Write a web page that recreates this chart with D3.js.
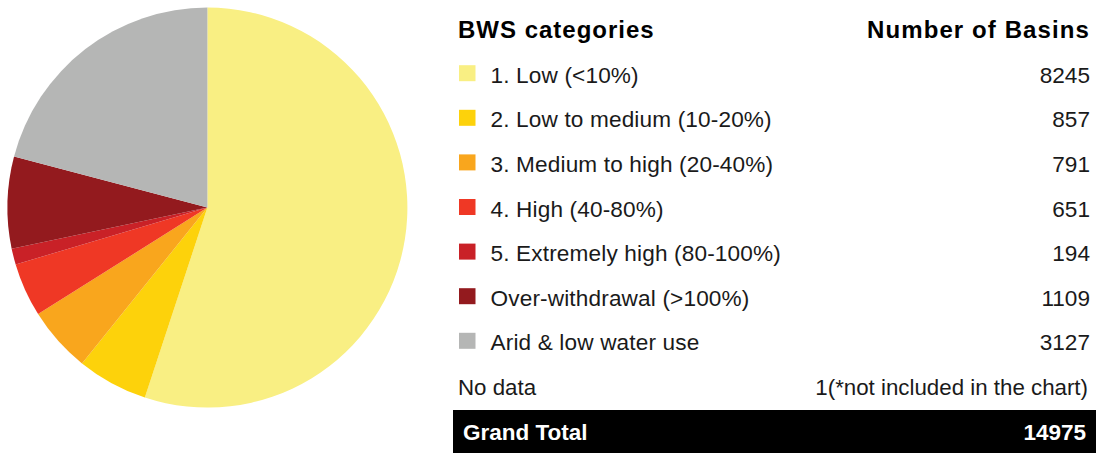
<!DOCTYPE html>
<html>
<head>
<meta charset="utf-8">
<script src="https://cdn.jsdelivr.net/npm/d3@7"></script>
<style>
  html, body { margin: 0; padding: 0; background: #fff; }
  svg { display: block; }
  text { font-family: "Liberation Sans", Arial, Helvetica, sans-serif; }
</style>
</head>
<body>
<svg id="chart" width="1096" height="453"></svg>
<script>
const categories = [
  "1. Low (<10%)",
  "2. Low to medium (10-20%)",
  "3. Medium to high (20-40%)",
  "4. High (40-80%)",
  "5. Extremely high (80-100%)",
  "Over-withdrawal (>100%)",
  "Arid & low water use"
];
const basins = [8245, 857, 791, 651, 194, 1109, 3127];
const colors = ["#F9EF83", "#FDD20B", "#F9A61D", "#EF3825", "#C92127", "#931A1E", "#B5B6B5"];
const headerLabels = ["BWS categories", "Number of Basins"];
const noDataLabel = "No data";
const noDataValue = "1(*not included in the chart)";
const totalLabel = "Grand Total";
const totalValue = "14975";

const svg = d3.select("#chart");

// Pie
const cx = 207.4, cy = 207.6, R = 200;
const pie = d3.pie().sort(null).value(d => d.v).startAngle(0).endAngle(2 * Math.PI);
const arc = d3.arc().innerRadius(0).outerRadius(R);
const data = categories.map((c, i) => ({ c, v: basins[i], col: colors[i] }));
svg.append("g")
  .attr("transform", `translate(${cx},${cy})`)
  .selectAll("path")
  .data(pie(data))
  .join("path")
  .attr("d", arc)
  .attr("fill", d => d.data.col);

// Legend table
const xLeft = 458, xRight = 1090, xText = 490.5;
const rowY = d3.scaleLinear().domain([0, 1]).range([82.7, 82.7 + 44.6]);

const g = svg.append("g");
g.append("text").attr("x", xLeft).attr("y", 38.3)
  .attr("font-size", 24).attr("font-weight", "bold").attr("letter-spacing", 1.0)
  .attr("fill", "#000").text(headerLabels[0]);
g.append("text").attr("x", xRight).attr("y", 38.3)
  .attr("font-size", 24).attr("font-weight", "bold").attr("letter-spacing", 1.1)
  .attr("text-anchor", "end").attr("fill", "#000").text(headerLabels[1]);

const rows = g.selectAll("g.row").data(data).join("g").attr("class", "row")
  .attr("transform", (d, i) => `translate(0,${rowY(i)})`);
rows.append("rect").attr("x", 459).attr("y", -17.5).attr("width", 16.5).attr("height", 16)
  .attr("fill", d => d.col);
rows.append("text").attr("x", xText).attr("y", 0).attr("font-size", 22.6).attr("fill", "#1a1a1a")
  .attr("letter-spacing", 0.15).text(d => d.c);
rows.append("text").attr("x", xRight).attr("y", 0).attr("font-size", 22.6).attr("fill", "#1a1a1a")
  .attr("text-anchor", "end").text(d => d.v);

const yNo = rowY(categories.length);
g.append("text").attr("x", xLeft).attr("y", yNo).attr("font-size", 22.3).attr("fill", "#1a1a1a").text(noDataLabel);
g.append("text").attr("x", 1088).attr("y", yNo).attr("font-size", 22.3).attr("fill", "#1a1a1a")
  .attr("text-anchor", "end").text(noDataValue);

g.append("rect").attr("x", 453).attr("y", 410).attr("width", 643).attr("height", 43).attr("fill", "#000");
g.append("text").attr("x", 463).attr("y", 439.5).attr("font-size", 22.5).attr("font-weight", "bold")
  .attr("fill", "#fff").text(totalLabel);
g.append("text").attr("x", 1086).attr("y", 439.5).attr("font-size", 22.5).attr("font-weight", "bold")
  .attr("fill", "#fff").attr("text-anchor", "end").text(totalValue);
</script>
</body>
</html>
